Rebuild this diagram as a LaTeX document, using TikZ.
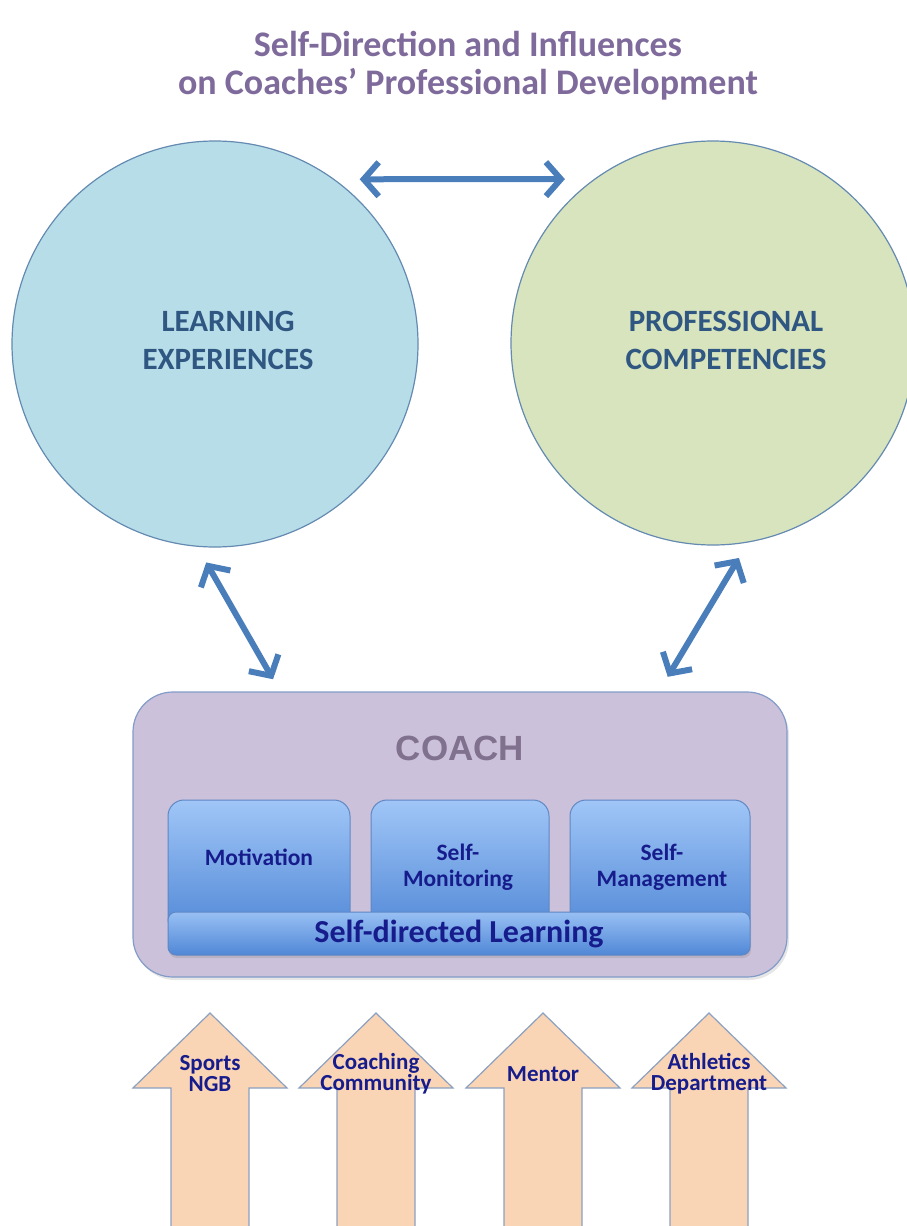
\documentclass[tikz,border=0pt]{standalone}
\usepackage{fontspec}
\setmainfont{Carlito}
\newfontfamily\coachfont{Liberation Sans}
\usepackage{tikz}
\usetikzlibrary{arrows.meta,positioning,shadows}
\usepackage{xcolor}

\definecolor{titlepurple}{RGB}{127,106,156}
\definecolor{learnfill}{RGB}{183,222,232}
\definecolor{compfill}{RGB}{215,228,189}
\definecolor{circleedge}{RGB}{100,138,178}
\definecolor{circletext}{RGB}{47,87,130}
\definecolor{arrowblue}{RGB}{74,126,187}
\definecolor{coachfill}{RGB}{204,193,218}
\definecolor{coachedge}{RGB}{130,155,200}
\definecolor{coachtext}{RGB}{128,113,142}
\definecolor{boxtop}{RGB}{160,198,247}
\definecolor{boxbot}{RGB}{80,135,214}
\definecolor{boxedge}{RGB}{95,135,195}
\definecolor{navytext}{RGB}{22,28,140}
\definecolor{peach}{RGB}{250,213,181}
\definecolor{peachedge}{RGB}{140,160,192}

\begin{document}
\begin{tikzpicture}
      [x=1pt, y=-1pt,
      link/.style={draw=arrowblue, line width=6pt, line cap=round,
        arrows={Straight Barb[length=15pt,width=34pt]-Straight Barb[length=15pt,width=34pt]}},
      big circle/.style={draw=circleedge, line width=1.2pt, circle, inner sep=0pt},
      circle text/.style={align=center, font=\fontsize{31}{38}\selectfont\bfseries, text=circletext},
      coach box/.style={draw=coachedge, line width=1.2pt, fill=coachfill, rectangle, rounded corners=40pt,
        minimum width=654pt, minimum height=285pt,
        drop shadow={shadow xshift=2pt, shadow yshift=-3pt, opacity=.2}},
      inner box/.style={draw=boxedge, line width=1pt, top color=boxtop, bottom color=boxbot, rounded corners=16pt},
      box text/.style={align=center, font=\fontsize{23.5}{26}\selectfont\bfseries, text=navytext},
      bar box/.style={draw=boxedge, line width=1pt, top color=boxtop!90!boxbot, bottom color=boxbot, rectangle,
        rounded corners=8pt, minimum width=582pt, minimum height=43pt,
        drop shadow={shadow xshift=1pt, shadow yshift=-3pt, opacity=.25}},
      infl/.style={draw=peachedge, line width=1.2pt, fill=peach},
      infl text/.style={align=center, font=\fontsize{23}{21}\selectfont\bfseries, text=navytext}
      ]
    \useasboundingbox (0,0) rectangle (907,1226);

    % title
    \node[align=center, font=\fontsize{36}{38}\selectfont\bfseries, text=titlepurple] (title) at (468,66)
      {Self-Direction and Influences\\on Coaches’ Professional Development};

    % the two circles
    \node[big circle, fill=learnfill, minimum size=406pt] (le) at (215,344) {};
    \node[big circle, fill=compfill, minimum size=404pt] (pc) at (713,343) {};
    \node[circle text] (let) at (228,340) {LEARNING\\EXPERIENCES};
    \node[circle text] (pct) at (726,340) {PROFESSIONAL\\COMPETENCIES};

    % coach
    \node[coach box] (coach) at (460,834.5) {};
    \node[font=\fontsize{35}{40}\selectfont\coachfont\bfseries, text=coachtext] (coachlbl) at (460,748) {COACH};

    \foreach \xa/\xb in {168/350, 371/549, 570/750}
      \shade[inner box] (\xa,800) rectangle (\xb,935);
    \node[box text] (mot) at (259,857) {Motivation};
    \node[box text] (smon) at (458,867) {Self-\\Monitoring};
    \node[box text] (sman) at (662,867) {Self-\\Management};
    \node[bar box, font=\fontsize{32}{36}\selectfont\bfseries, text=navytext] (sdl) at (459,933.5) {Self-directed Learning};

    % links
    \draw[link, shorten <=25pt, shorten >=29pt] (le.54) -- (pc.126);
    \draw[link, shorten <=18pt, shorten >=14pt] (le.-95) -- ([xshift=-180pt]coach.north);
    \draw[link, shorten <=17pt, shorten >=18pt] ([xshift=199pt]coach.north) -- (pc.-80);

    % influences
    \foreach \cx/\nm/\txt in {210/ngb/{Sports\\NGB}, 376/comm/{Coaching\\Community},
                             543/ment/{Mentor}, 709/ath/{Athletics\\Department}}{
      \draw[infl] (\cx,1013) -- (\cx+77,1088) -- (\cx+39,1088) -- (\cx+39,1240)
        -- (\cx-39,1240) -- (\cx-39,1088) -- (\cx-77,1088) -- cycle;
      \node[infl text] (\nm) at (\cx,1074) {\txt};
    }
\end{tikzpicture}
\end{document}
